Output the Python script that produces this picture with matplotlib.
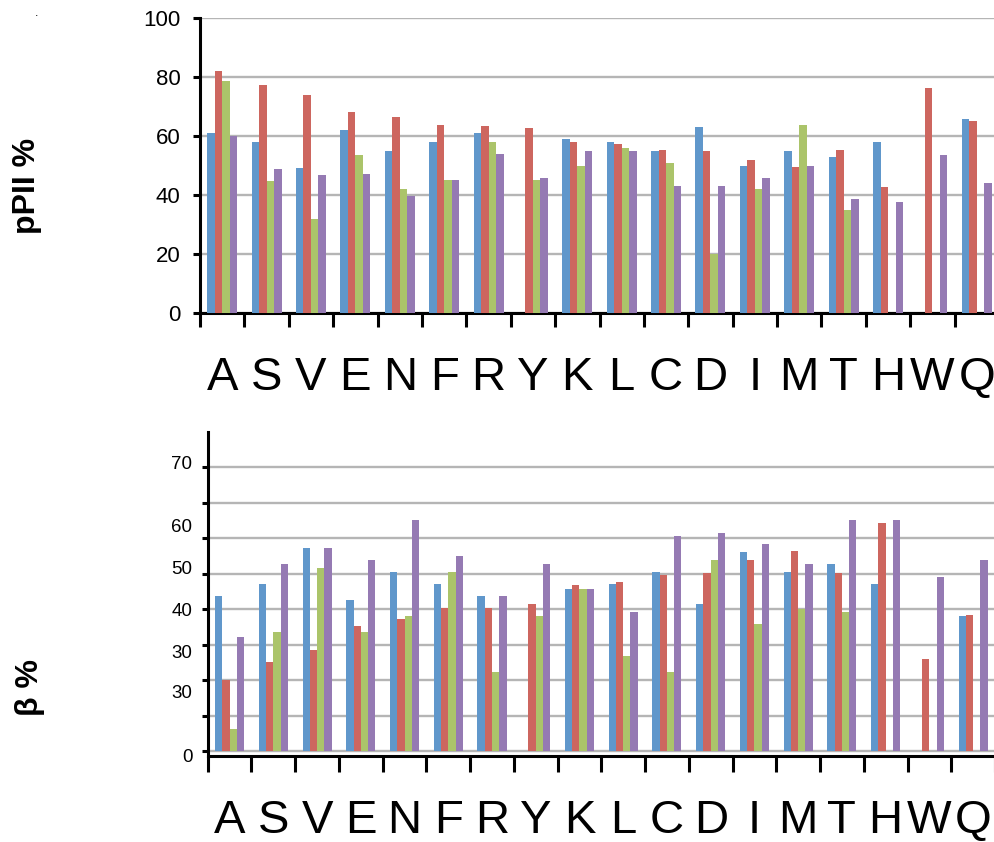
import numpy as np
import matplotlib
matplotlib.use('Agg')
import matplotlib.pyplot as plt

plt.rcParams['font.family'] = ['Liberation Sans', 'DejaVu Sans']

residues = ['A', 'S', 'V', 'E', 'N', 'F', 'R', 'Y', 'K',
            'L', 'C', 'D', 'I', 'M', 'T', 'H', 'W', 'Q']

# pPII % (top panel), np.nan = no bar
ppii_blue = [61, 58, 49, 62, 55, 58, 61, np.nan, 59,
             58, 55, 63, 50, 55, 53, 58, np.nan, 65.8]
ppii_red = [82, 77.2, 74, 68, 66.5, 63.8, 63.5, 62.7, 58,
            57.2, 55.4, 55, 51.8, 49.5, 55.2, 42.6, 76.2, 65.2]
ppii_green = [78.7, 44.7, 31.8, 53.7, 42, 45, 58, 45, 49.7,
              55.9, 50.7, 20, 41.9, 63.8, 34.8, np.nan, np.nan, np.nan]
ppii_purple = [60, 48.7, 46.8, 47, 39.8, 45, 54, 45.8, 55,
               55, 42.9, 43, 45.8, 49.7, 38.6, 37.7, 53.7, 43.9]

# beta % (bottom panel)
beta_blue = [43.7, 47, 57.3, 42.6, 50.4, 47, 43.7, np.nan, 45.8,
             47, 50.4, 41.4, 56.1, 50.4, 52.7, 47, np.nan, 38]
beta_red = [20.1, 25.2, 28.5, 35.4, 37.2, 40.4, 40.4, 41.4, 46.8,
            47.7, 49.6, 50.3, 53.9, 56.3, 50.1, 64.3, 26.1, 38.5]
beta_green = [6.3, 33.5, 51.6, 33.5, 38, 50.4, 22.2, 38, 45.8,
              26.8, 22.2, 53.9, 35.8, 40.2, 39.2, np.nan, np.nan, np.nan]
beta_purple = [32.3, 52.7, 57.3, 53.9, 65.1, 54.9, 43.7, 52.7, 45.8,
               39.2, 60.6, 61.6, 58.3, 52.7, 65.1, 65.1, 49.2, 53.9]

# the odd left-hand labels of the bottom panel, as printed
beta_label_pos = [-1.4, 16.9, 28.1, 39.9, 51.9, 63.5, 81.3]
beta_labels = ['0', '30', '30', '40', '50', '60', '70']

colors = ['#6097cb', '#cd665f', '#abc46a', '#957ab3']
grid_c = '#b5b5b5'

fig = plt.figure(figsize=(9.95, 8.42), dpi=100)
W, H = 995., 842.


def panel(rect, series, bw):
    ax = fig.add_axes(rect)
    n = len(residues)
    x = np.arange(n) + 0.5
    for k, (vals, c) in enumerate(zip(series, colors)):
        ax.bar(x + (k - 1.5) * bw, vals, width=bw, color=c,
               edgecolor='none', zorder=3)
    ax.set_xlim(0, n)
    ax.set_xticks(np.arange(n + 1))
    ax.set_xticklabels([])
    ax.set_xticks(x, minor=True)
    ax.set_xticklabels(residues, minor=True, fontsize=34)
    for s in ['top', 'right']:
        ax.spines[s].set_visible(False)
    for s in ['left', 'bottom']:
        ax.spines[s].set_linewidth(2.2)
    ax.yaxis.grid(True, color=grid_c, linewidth=1.7, zorder=0)
    ax.set_axisbelow(True)
    return ax


# top panel
ax1 = panel([200 / W, 1 - 313 / H, 799 / W, 295 / H],
            [ppii_blue, ppii_red, ppii_green, ppii_purple], 0.169)
ax1.set_ylim(0, 100)
ax1.set_yticks(np.arange(0, 101, 20))
ax1.tick_params(axis='y', length=5, width=2.2, labelsize=16, pad=9)
ax1.tick_params(axis='x', which='major', length=10, width=2.2)
ax1.tick_params(axis='x', which='minor', length=0, pad=31)
ax1.set_ylabel('pPII %', fontsize=23, fontweight='bold')
ax1.yaxis.set_label_coords(-0.198, 0.43)

# bottom panel
ax2 = panel([207.7 / W, 1 - 756 / H, 787.3 / W, 324 / H],
            [beta_blue, beta_red, beta_green, beta_purple], 0.166)
ax2.set_ylim(0, 90)
ax2.set_yticks(np.arange(0, 81, 10))
ax2.set_yticklabels([])
ax2.set_yticks(beta_label_pos, minor=True)
ax2.set_yticklabels(beta_labels, minor=True)
ax2.yaxis.grid(False, which='minor')
ax2.tick_params(axis='y', which='major', length=4, width=2.2)
ax2.tick_params(axis='y', which='minor', length=0, labelsize=13.5, pad=11)
ax2.tick_params(axis='x', which='major', length=11.5, width=2.2)
ax2.tick_params(axis='x', which='minor', length=0, pad=31)
ax2.set_ylabel('\u03b2 %', fontsize=23, fontweight='bold')
ax2.yaxis.set_label_coords(-0.2067, 0.21)

fig.text(37 / W, 1 - 13 / H, '.', fontsize=9, ha='center', va='center')

fig.savefig('out.png', dpi=100)
